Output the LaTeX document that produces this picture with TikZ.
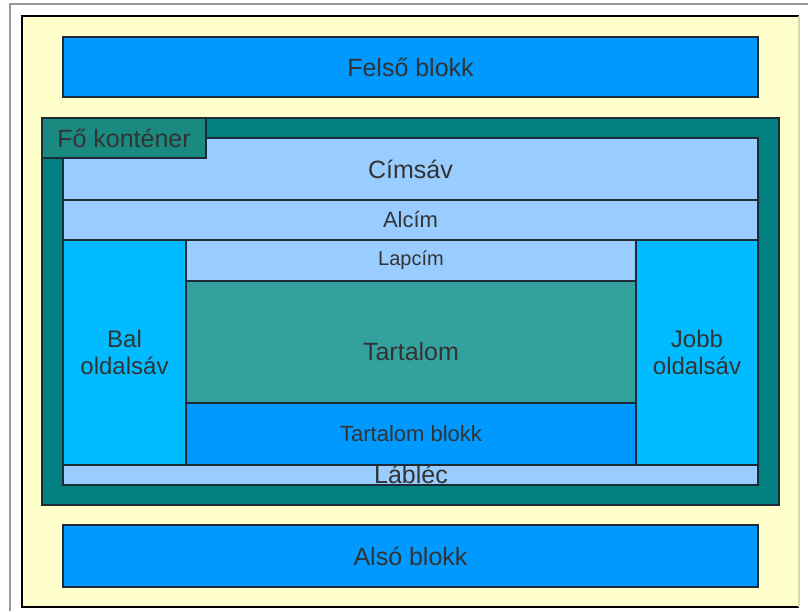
\documentclass[tikz,border=0pt]{standalone}
\usepackage{fontspec}
\setmainfont{Liberation Sans}
\definecolor{bgyellow}{HTML}{FFFFCC}
\definecolor{blockblue}{HTML}{0099FF}
\definecolor{teal1}{HTML}{008080}
\definecolor{teallabel}{HTML}{1A8A80}
\definecolor{lightblue}{HTML}{99CCFF}
\definecolor{sideblue}{HTML}{00BBFF}
\definecolor{contentteal}{HTML}{33A19E}
\definecolor{edge}{HTML}{1C2B36}
\definecolor{txt}{HTML}{333333}
\definecolor{pagegray}{HTML}{9A9A9A}
\definecolor{rightedge}{HTML}{D9D9B3}
\begin{document}
\begin{tikzpicture}[x=1pt,y=-1pt,
  box/.style={draw=edge, line width=1.2pt, inner sep=0pt, outer sep=0pt, text=txt, align=center},
  lbl/.style={text=txt, inner sep=0pt, align=center},
  big/.style={font=\fontsize{25}{26}\selectfont},
  mid/.style={font=\fontsize{22}{26}\selectfont},
  small/.style={font=\fontsize{20}{24}\selectfont},
  side/.style={font=\fontsize{24}{27}\selectfont}
]
\useasboundingbox (0,0) rectangle (808,611);
% page frame
\draw[pagegray, line width=1.5pt] (808,4) -- (10,4) -- (10,611);
% yellow background
\fill[bgyellow] (22,16) rectangle (799,607);
\draw[black, line width=1.2pt] (799,16) -- (22,16) -- (22,607) -- (799,607);
\draw[rightedge, line width=1.2pt] (799,16) -- (799,607);
% top block
\node[box, big, fill=blockblue, minimum width=695pt, minimum height=60pt] (felso) at (410.5,67) {Felső blokk};
% main container
\node[box, fill=teal1, minimum width=737pt, minimum height=387pt] (main) at (410.5,311.5) {};
\node[box, big, fill=lightblue, minimum width=695pt, minimum height=62pt] (cimsav) at (410.5,169) {Címsáv};
\node[box, mid, fill=lightblue, minimum width=695pt, minimum height=40pt] (alcim) at (410.5,220) {Alcím};
\node[box, side, fill=sideblue, minimum width=123pt, minimum height=225pt] (bal) at (124.5,352.5) {Bal\\oldalsáv};
\node[box, small, fill=lightblue, minimum width=450pt, minimum height=41pt] (lapcim) at (411,260.5) {Lapcím};
\node[box, fill=contentteal, minimum width=450pt, minimum height=122pt] (tartalom) at (411,342) {};
\node[lbl, big] (tartalomtxt) at (411,352) {Tartalom};
\node[box, mid, fill=blockblue, minimum width=450pt, minimum height=62pt] (tblokk) at (411,434) {Tartalom blokk};
\node[box, side, fill=sideblue, minimum width=122pt, minimum height=225pt] (jobb) at (697,352.5) {Jobb\\oldalsáv};
\node[box, fill=lightblue, minimum width=695pt, minimum height=20pt] (lablec) at (410.5,475) {};
\node[lbl, big] (lablectxt) at (411,474) {Lábléc};
% container label
\node[box, big, fill=teallabel, minimum width=164pt, minimum height=40pt] (folabel) at (124,138) {Fő konténer};
% bottom block
\node[box, big, fill=blockblue, minimum width=695pt, minimum height=62pt] (also) at (410.5,556) {Alsó blokk};
\end{tikzpicture}
\end{document}
